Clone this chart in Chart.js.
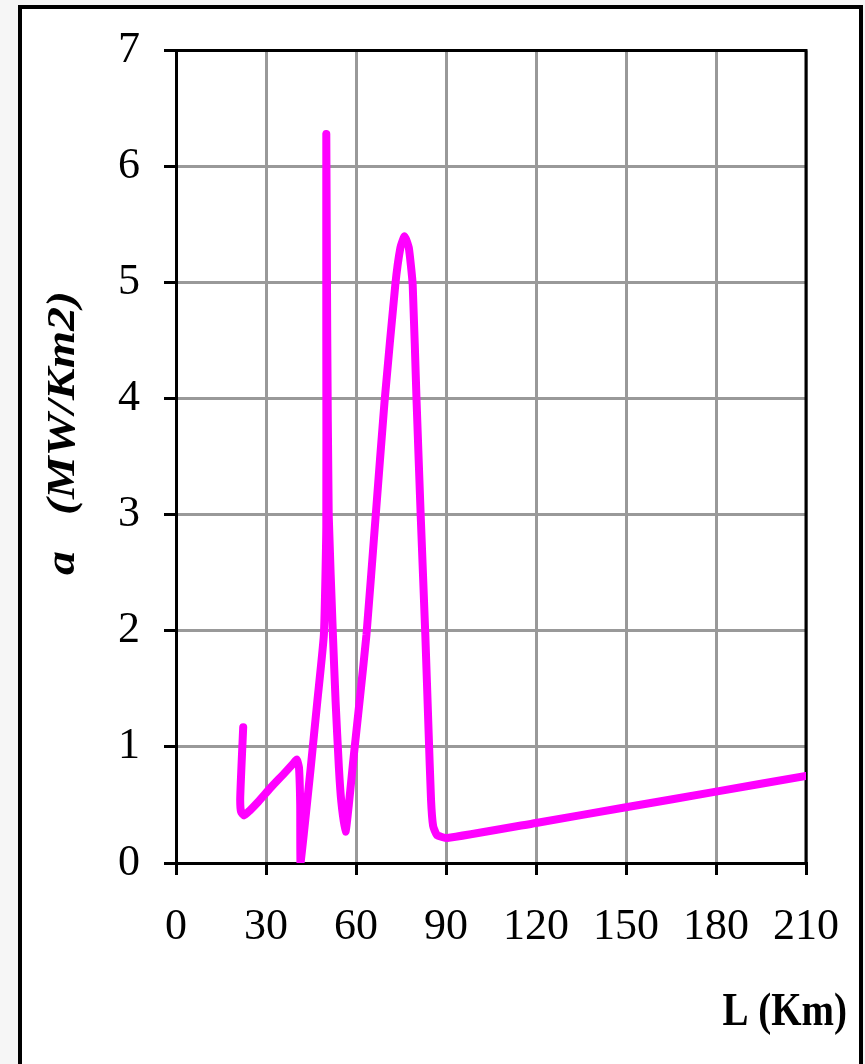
<!DOCTYPE html>
<html>
<head>
<meta charset="utf-8">
<script src="https://cdn.jsdelivr.net/npm/chart.js@4.4.0/dist/chart.umd.min.js"></script>
<style>
  html, body { margin: 0; padding: 0; background: #f6f6f6; overflow: hidden; }
  #frame { position: absolute; left: 18px; top: 5px; width: 837px; height: 1100px; border: 4px solid #000; background: #fff; }
  #wrap { position: absolute; left: 0; top: 0; width: 865px; height: 1064px; }
</style>
</head>
<body>
<div id="frame"></div>
<div id="wrap"><canvas id="myChart" width="865" height="1064"></canvas></div>
<script>
// curve, in drawing order (x goes back and forth)
const lengthKm = [22.4, 21.8, 21.4, 21.7, 22.7, 24.5, 27.5, 31.6, 36.0, 39.2, 40.3, 41.0, 41.4, 41.5,
    42.6, 44.9, 47.1, 49.3, 50.1, 50.1, 50.1, 50.4, 50.9, 52.3, 53.2, 54.3, 55.1, 56.5,
    57.6, 59.0, 61.3, 63.5, 66.5, 69.5, 73.1, 74.8, 76.2, 77.6, 78.9, 80.2, 81.6, 83.1,
    84.2, 85.0, 85.7, 87.0, 90.4, 120, 150, 180, 210];
const densityMW = [1.17, 0.82, 0.55, 0.44, 0.41, 0.45, 0.53, 0.65, 0.77, 0.86, 0.89, 0.82, 0.5, 0.0,
    0.25, 0.82, 1.39, 1.97, 2.9, 4.5, 6.28, 4.6, 3.0, 1.97, 1.39, 0.82, 0.53, 0.27,
    0.5, 0.86, 1.42, 1.97, 2.97, 3.97, 4.98, 5.3, 5.40, 5.3, 4.98, 3.97, 2.97, 1.97,
    1.13, 0.55, 0.32, 0.24, 0.215, 0.345, 0.48, 0.615, 0.75];
const xTicks = [0, 30, 60, 90, 120, 150, 180, 210];
const yTicks = [0, 1, 2, 3, 4, 5, 6, 7];
const xTitle = 'L (Km)';
const yTitle = 'a   (MW/Km2)';

const serif = '"Times New Roman", "Liberation Serif", Tinos, serif';
const points = lengthKm.map((x, i) => ({ x: x, y: densityMW[i] }));

const extras = {
    id: 'extras',
    beforeDatasetsDraw(chart) {
        const ctx = chart.ctx;
        const a = chart.chartArea;
        ctx.save();
        ctx.strokeStyle = '#000';
        ctx.lineWidth = 3;
        ctx.beginPath();
        ctx.moveTo(a.left, a.top);
        ctx.lineTo(a.right, a.top);
        ctx.lineTo(a.right, a.bottom);
        ctx.stroke();
        ctx.restore();
    },
    afterDraw(chart) {
        const ctx = chart.ctx;
        ctx.save();
        ctx.fillStyle = '#000';
        ctx.font = 'italic bold 40px ' + serif;
        ctx.textAlign = 'center';
        ctx.textBaseline = 'alphabetic';
        ctx.translate(74, 433);
        ctx.rotate(-Math.PI / 2);
        ctx.scale(1.2, 1);
        ctx.fillText(yTitle, 0, 0);
        ctx.restore();

        ctx.save();
        ctx.fillStyle = '#000';
        ctx.font = 'bold 39px ' + serif;
        ctx.textAlign = 'right';
        ctx.textBaseline = 'alphabetic';
        ctx.translate(847, 1025);
        ctx.scale(1, 1.2);
        ctx.fillText(xTitle, 0, 0);
        ctx.restore();
    }
};

const tickFont = { family: serif, size: 44 };

new Chart(document.getElementById('myChart'), {
    type: 'scatter',
    data: {
        datasets: [{
            data: points,
            showLine: true,
            borderColor: '#ff00ff',
            borderWidth: 8,
            borderCapStyle: 'round',
            borderJoinStyle: 'round',
            pointRadius: 0,
            pointHoverRadius: 0,
            tension: 0.15,
            fill: false
        }]
    },
    options: {
        responsive: false,
        animation: false,
        devicePixelRatio: 1,
        layout: { padding: { left: 0, top: 48, right: 58, bottom: 0 } },
        plugins: { legend: { display: false }, tooltip: { enabled: false } },
        scales: {
            x: {
                type: 'linear',
                min: xTicks[0],
                max: xTicks[xTicks.length - 1],
                afterFit: s => { s.height = 1064 - 863; },
                ticks: { stepSize: xTicks[1] - xTicks[0], color: '#000', font: tickFont, padding: 26, maxRotation: 0 },
                grid: { color: '#999', lineWidth: 3, tickColor: '#000', tickLength: 12, tickWidth: 3 },
                border: { color: '#000', width: 3 }
            },
            y: {
                type: 'linear',
                min: yTicks[0],
                max: yTicks[yTicks.length - 1],
                afterFit: s => { s.width = 176; },
                ticks: { stepSize: yTicks[1] - yTicks[0], color: '#000', font: tickFont, padding: 24 },
                grid: { color: '#999', lineWidth: 3, tickColor: '#000', tickLength: 12, tickWidth: 3 },
                border: { color: '#000', width: 3 }
            }
        }
    },
    plugins: [extras]
});
</script>
</body>
</html>
